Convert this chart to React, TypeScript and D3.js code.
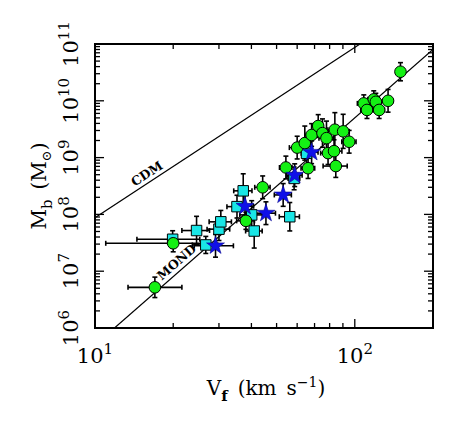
import React from "react";
import * as d3 from "d3";

// ---- data ----
// green circles
const greenV = [17.0, 20.0, 38.1, 44.2, 54.3, 66.1, 60.0, 64.2, 68.2, 72.3, 75.1, 77.8, 83.8, 90.2, 95.1, 78.9, 83.2, 84.5, 108.3, 111.4, 118.3, 120.5, 124.1, 134.3, 149.9];
const greenM = [5.2e6, 3.1e7, 7.7e7, 3.0e8, 6.7e8, 6.5e8, 1.5e9, 1.8e9, 2.5e9, 3.6e9, 2.7e9, 2.2e9, 3.1e9, 2.9e9, 1.9e9, 1.2e9, 1.3e9, 7.1e8, 9.0e9, 6.9e9, 1.06e10, 9.6e9, 6.9e9, 1.0e10, 3.25e10];
const greenVErr: (number | number[])[] = [[3.6, 4.6], [9, 6.5], 3, 3, 3, 4, 4, 3, 4, 3, 4, 5, 5, 5, 6, 5, 6, 9, 6, 6, 6, 6, 6, 6, 5];
const greenMErr = [0.18, 0.15, 0.15, 0.2, 0.2, 0.18, 0.2, 0.3, 0.2, 0.2, 0.25, 0.3, 0.3, 0.3, 0.2, 0.2, 0.2, 0.2, 0.15, 0.15, 0.15, 0.15, 0.15, 0.2, 0.16];

// cyan squares
const cyanV = [19.9, 24.6, 26.7, 30.0, 30.5, 35.2, 37.2, 40.1, 41.0, 56.2, 58.4, 65.2];
const cyanM = [3.65e7, 5.2e7, 2.9e7, 5.5e7, 7.4e7, 1.37e8, 2.6e8, 9.8e7, 5.1e7, 9.1e7, 4.3e8, 1.19e9];
const cyanVErr: (number | number[])[] = [5.4, 3, 3, 3, 3, 3, 3, 4, 3, 5, 3, 3];
const cyanMErr = [0.15, 0.25, 0.15, 0.2, 0.2, 0.2, 0.3, 0.25, 0.3, 0.25, 0.2, 0.2];

// blue stars
const starV = [29.1, 37.8, 45.5, 53.0, 58.7, 68.2];
const starM = [2.8e7, 1.39e8, 1.05e8, 2.2e8, 4.9e8, 1.24e9];
const starVErr: (number | number[])[] = [5, 3, 4, 4, 4, 4];
const starMErr = [0.2, 0.2, 0.2, 0.2, 0.2, 0.2];

// model lines: M = norm * V^slope
const cdmLogNorm = 4.94;
const cdmSlope = 3;
const mondLogNorm = 1.7;
const mondSlope = 4;

// axes
const xDomain = [10, 200];
const yDomain = [1e6, 1e11];
const xMajor = [10, 100];
const yMajor = [1e6, 1e7, 1e8, 1e9, 1e10, 1e11];

const FONT = "'DejaVu Serif', 'Liberation Serif', serif";

export default function App() {
  const W = 465, H = 424;
  const L = 95, R = 433, T = 44, B = 328;
  const x = d3.scaleLog().domain(xDomain).range([L, R]);
  const y = d3.scaleLog().domain(yDomain).range([B, T]);

  const cdm = (v: number) => Math.pow(10, cdmLogNorm + cdmSlope * Math.log10(v));
  const mond = (v: number) => Math.pow(10, mondLogNorm + mondSlope * Math.log10(v));

  // clip lines at frame
  const lineFor = (fn: (v: number) => number, slope: number, logNorm: number) => {
    const vAtMin = Math.pow(10, (Math.log10(yDomain[0]) - logNorm) / slope);
    const vAtMax = Math.pow(10, (Math.log10(yDomain[1]) - logNorm) / slope);
    const v0 = Math.max(xDomain[0], vAtMin);
    const v1 = Math.min(xDomain[1], vAtMax);
    const pts: [number, number][] = [[v0, fn(v0)], [v1, fn(v1)]];
    return d3.line<[number, number]>().x((d) => x(d[0])).y((d) => y(d[1]))(pts) || "";
  };

  const xMinor: number[] = [];
  [10, 100].forEach((dec) => {
    for (let k = 2; k <= 9; k++) {
      const v = dec * k;
      if (v < xDomain[1]) xMinor.push(v);
    }
  });
  const yMinor: number[] = [];
  yMajor.slice(0, -1).forEach((dec) => {
    for (let k = 2; k <= 9; k++) yMinor.push(dec * k);
  });

  const errBars = (V: number[], M: number[], VE: (number | number[])[], ME: number[], key: string) =>
    V.map((v, i) => {
      const e = VE[i];
      const lo = Array.isArray(e) ? e[0] : e;
      const hi = Array.isArray(e) ? e[1] : e;
      const cx = x(v), cy = y(M[i]);
      const x0 = x(v - lo), x1 = x(v + hi);
      const y0 = y(M[i] * Math.pow(10, -ME[i])), y1 = y(M[i] * Math.pow(10, ME[i]));
      const c = 2.5;
      return (
        <g key={key + i} stroke="#000" strokeWidth={1.6} fill="none">
          <line x1={x0} x2={x1} y1={cy} y2={cy} />
          <line x1={cx} x2={cx} y1={y0} y2={y1} />
          <line x1={x0} x2={x0} y1={cy - c} y2={cy + c} />
          <line x1={x1} x2={x1} y1={cy - c} y2={cy + c} />
          <line x1={cx - c} x2={cx + c} y1={y0} y2={y0} />
          <line x1={cx - c} x2={cx + c} y1={y1} y2={y1} />
        </g>
      );
    });

  const squarePath = d3.symbol(d3.symbolSquare, 110)() || "";
  const starPath = d3.symbol(d3.symbolStar, 100)() || "";

  // labels along lines
  const lineLabel = (text: string, fn: (v: number) => number, v: number, off: number) => {
    const px = x(v), py = y(fn(v));
    const px2 = x(v * 1.2), py2 = y(fn(v * 1.2));
    const ang = (Math.atan2(py2 - py, px2 - px) * 180) / Math.PI;
    return (
      <text
        transform={`translate(${px},${py}) rotate(${ang})`}
        y={-off}
        textAnchor="middle"
        dominantBaseline="central"
        fontFamily={FONT}
        fontSize={12.5}
        fontWeight="bold"
        fill="#000"
      >
        {text}
      </text>
    );
  };

  return (
    <svg
      width={W}
      height={H}
      style={{ position: "absolute", left: 0, top: 0, background: "#fff" }}
    >
      <rect x={0} y={0} width={W} height={H} fill="#fff" />
      <defs>
        <clipPath id="plotclip">
          <rect x={L} y={T} width={R - L} height={B - T} />
        </clipPath>
      </defs>

      {/* model lines */}
      <g clipPath="url(#plotclip)" stroke="#000" strokeWidth={1.2} fill="none">
        <path d={lineFor(cdm, cdmSlope, cdmLogNorm)} />
        <path d={lineFor(mond, mondSlope, mondLogNorm)} />
      </g>
      {lineLabel("CDM", cdm, 16.5, 8.6)}
      {lineLabel("MOND", mond, 21.7, 9)}

      {/* error bars */}
      <g clipPath="url(#plotclip)">
        {errBars(cyanV, cyanM, cyanVErr, cyanMErr, "ce")}
        {errBars(greenV, greenM, greenVErr, greenMErr, "ge")}
        {errBars(starV, starM, starVErr, starMErr, "se")}
      </g>

      {/* markers */}
      {cyanV.map((v, i) => (
        <path key={"c" + i} d={squarePath} transform={`translate(${x(v)},${y(cyanM[i])})`} fill="#19e6e6" stroke="#000" strokeWidth={1} />
      ))}
      {greenV.map((v, i) => (
        <circle key={"g" + i} cx={x(v)} cy={y(greenM[i])} r={5.8} fill="#14f014" stroke="#000" strokeWidth={1} />
      ))}
      {starV.map((v, i) => (
        <path key={"s" + i} d={starPath} transform={`translate(${x(v)},${y(starM[i])})`} fill="#1010e8" stroke="#0a0a90" strokeWidth={0.6} />
      ))}

      {/* ticks */}
      <g stroke="#000" strokeWidth={1.3}>
        {xMajor.map((v) => (
          <g key={"xM" + v}>
            <line x1={x(v)} x2={x(v)} y1={B} y2={B - 9} />
            <line x1={x(v)} x2={x(v)} y1={T} y2={T + 9} />
          </g>
        ))}
        {xMinor.map((v) => (
          <g key={"xm" + v}>
            <line x1={x(v)} x2={x(v)} y1={B} y2={B - 5} />
            <line x1={x(v)} x2={x(v)} y1={T} y2={T + 5} />
          </g>
        ))}
        {yMajor.map((v) => (
          <g key={"yM" + v}>
            <line x1={L} x2={L + 9} y1={y(v)} y2={y(v)} />
            <line x1={R} x2={R - 9} y1={y(v)} y2={y(v)} />
          </g>
        ))}
        {yMinor.map((v) => (
          <g key={"ym" + v}>
            <line x1={L} x2={L + 5} y1={y(v)} y2={y(v)} />
            <line x1={R} x2={R - 5} y1={y(v)} y2={y(v)} />
          </g>
        ))}
      </g>

      {/* frame */}
      <rect x={L} y={T} width={R - L} height={B - T} fill="none" stroke="#000" strokeWidth={2} />

      {/* x tick labels */}
      {xMajor.map((v) => (
        <text key={"xl" + v} x={x(v)} y={363} textAnchor="middle" fontFamily={FONT} fontSize={21} fill="#000">
          10
          <tspan fontSize={15} dy={-9}>{Math.round(Math.log10(v))}</tspan>
        </text>
      ))}

      {/* y tick labels */}
      {yMajor.map((v) => (
        <text
          key={"yl" + v}
          transform={`translate(78,${y(v)}) rotate(-90)`}
          textAnchor="middle"
          fontFamily={FONT}
          fontSize={21}
          fill="#000"
        >
          10
          <tspan fontSize={15} dy={-9}>{Math.round(Math.log10(v))}</tspan>
        </text>
      ))}

      {/* x title */}
      <text x={266} y={395} textAnchor="middle" fontFamily={FONT} fontSize={20} fill="#000">
        V
        <tspan fontSize={15} dy={6} fontWeight="bold">f</tspan>
        <tspan dy={-6}>{"\u2002(km\u2002s"}</tspan>
        <tspan fontSize={14} dy={-8}>{"\u22121"}</tspan>
        <tspan dy={8}>)</tspan>
      </text>

      {/* y title */}
      <text
        transform={`translate(46,186) rotate(-90)`}
        textAnchor="middle"
        fontFamily={FONT}
        fontSize={20}
        fill="#000"
      >
        M
        <tspan fontSize={15} dy={6}>b</tspan>
        <tspan dy={-6}>{"\u2002(M"}</tspan>
        <tspan fontSize={13} dy={5}>{"\u2299"}</tspan>
        <tspan dy={-5}>)</tspan>
      </text>
    </svg>
  );
}
